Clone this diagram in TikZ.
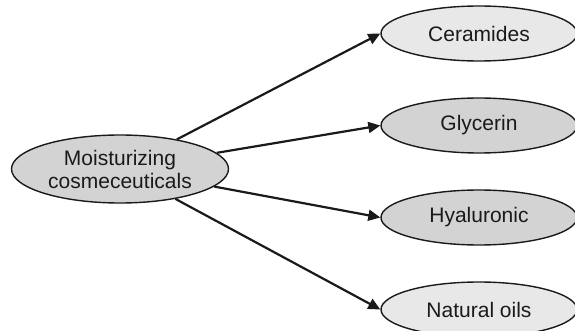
\documentclass[tikz,border=0pt]{standalone}
\usepackage{fontspec}
\setmainfont{Liberation Sans}
\usetikzlibrary{shapes.geometric,arrows.meta}
\definecolor{inkdark}{HTML}{1A1A1A}
\definecolor{fillpale}{HTML}{E8E8E8}
\definecolor{fillmid}{HTML}{D3D3D3}
\begin{document}
\begin{tikzpicture}[x=1pt,y=-1pt,
  bubble/.style={ellipse, draw=inkdark, line width=1.4pt, inner sep=0pt,
    text=inkdark, font=\fontsize{21}{23}\selectfont, align=center},
  leaf/.style={bubble, minimum width=196pt, minimum height=55pt},
  link/.style={draw=inkdark, line width=2.2pt,
    -{Triangle[length=12pt,width=11pt]}}]
  \path[use as bounding box, fill=white] (0,0) rectangle (575,331);

  \node[bubble, fill=fillmid, minimum width=217pt, minimum height=68pt]
    (root) at (120,169) {Moisturizing\\cosmeceuticals};

  \node[leaf, fill=fillpale] (cer) at (479,33.5) {Ceramides};
  \node[leaf, fill=fillmid]  (gly) at (479,125.5) {Glycerin};
  \node[leaf, fill=fillmid]  (hya) at (479,217.5) {Hyaluronic};
  \node[leaf, fill=fillpale] (nat) at (479,309.5) {Natural oils};

  \draw[link] (root) -- (cer.west);
  \draw[link] (root) -- (gly.west);
  \draw[link] (root) -- (hya.west);
  \draw[link] (root) -- (nat.west);
\end{tikzpicture}
\end{document}
